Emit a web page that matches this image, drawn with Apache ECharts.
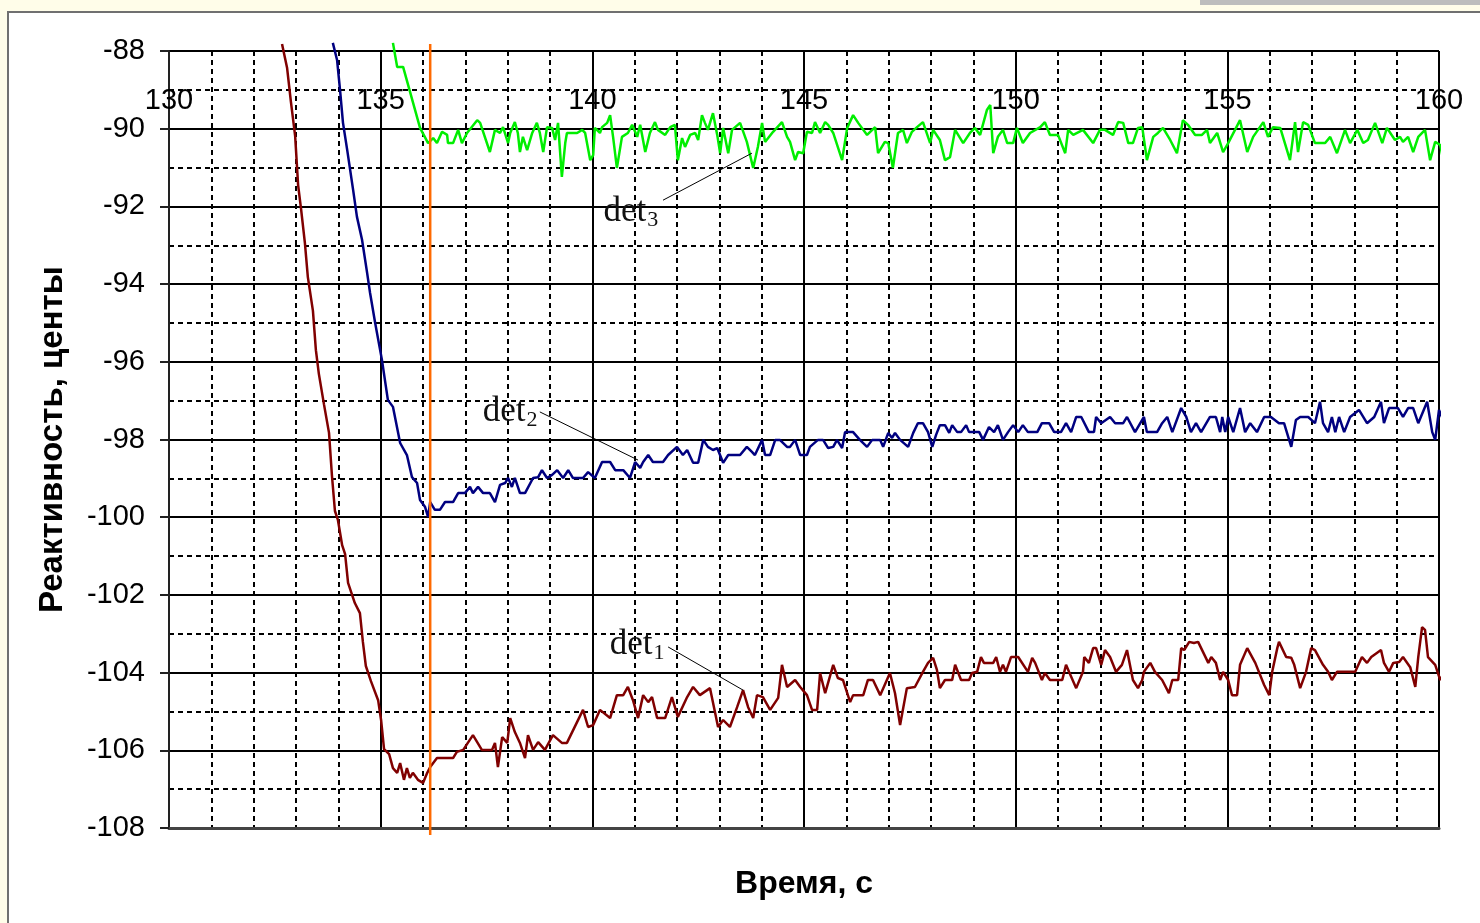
<!DOCTYPE html>
<html>
<head>
<meta charset="utf-8">
<title>Реактивность</title>
<script src="https://cdn.jsdelivr.net/npm/echarts@6/dist/echarts.min.js"></script>
<style>
html, body { margin: 0; padding: 0; width: 1480px; height: 923px; overflow: hidden; background: #fffde9; }
#frame { position: absolute; left: 7px; top: 11px; width: 1480px; height: 930px; background: #fff; border-left: 2px solid #707070; border-top: 2px solid #707070; }
#bar { position: absolute; left: 1200px; top: 0; width: 280px; height: 5px; background: #bdbdbd; }
#chart { position: absolute; left: 0; top: 0; width: 1480px; height: 923px; }
</style>
</head>
<body>
<div id="bar"></div>
<div id="frame"></div>
<div id="chart"></div>
<script>
// время, с / реактивность, центы
const det1Points = [
  [132.67,-87.82],[132.79,-88.44],[132.88,-89.31],[132.98,-90.19],[133.05,-91.45],[133.12,-92.07],[133.21,-92.94],
  [133.28,-93.82],[133.40,-94.69],[133.47,-95.70],[133.54,-96.31],[133.66,-97.09],[133.78,-97.83],[133.85,-98.94],
  [133.92,-99.84],[133.99,-100.07],[134.09,-100.72],[134.16,-100.95],[134.23,-101.69],[134.39,-102.21],[134.51,-102.47],
  [134.58,-103.21],[134.65,-103.83],[134.77,-104.22],[134.94,-104.71],[135.01,-105.22],[135.08,-105.97],[135.20,-106.10],
  [135.29,-106.46],[135.39,-106.58],[135.46,-106.33],[135.55,-106.76],[135.62,-106.46],[135.69,-106.71],[135.76,-106.58],
  [135.88,-106.76],[136.00,-106.84],[136.10,-106.58],[136.17,-106.43],[136.33,-106.20],[136.71,-106.20],[136.80,-106.04],
  [136.95,-105.99],[137.18,-105.61],[137.39,-105.99],[137.63,-105.99],[137.70,-105.81],[137.77,-106.43],[137.87,-105.66],
  [137.99,-105.81],[138.06,-105.17],[138.17,-105.53],[138.29,-105.81],[138.41,-106.20],[138.48,-105.61],[138.60,-105.99],
  [138.72,-105.79],[138.88,-105.99],[139.07,-105.61],[139.28,-105.81],[139.40,-105.81],[139.78,-104.96],[139.90,-105.40],
  [140.02,-105.35],[140.18,-104.96],[140.42,-105.17],[140.58,-104.58],[140.73,-104.58],[140.84,-104.37],[140.96,-104.71],
  [141.08,-105.17],[141.20,-104.58],[141.32,-104.76],[141.41,-104.63],[141.53,-105.17],[141.72,-105.17],[141.88,-104.63],
  [142.02,-105.14],[142.24,-104.63],[142.38,-104.37],[142.54,-104.58],[142.78,-104.40],[142.97,-105.40],[143.09,-105.22],
  [143.25,-105.40],[143.42,-104.89],[143.56,-104.45],[143.68,-104.89],[143.80,-105.17],[143.89,-104.58],[144.03,-104.63],
  [144.20,-104.96],[144.39,-104.65],[144.48,-103.80],[144.60,-104.37],[144.79,-104.19],[144.91,-104.37],[145.07,-104.58],
  [145.19,-104.96],[145.31,-104.96],[145.38,-104.01],[145.50,-104.53],[145.69,-103.80],[145.80,-104.14],[145.92,-104.19],
  [146.09,-104.76],[146.16,-104.58],[146.40,-104.58],[146.51,-104.19],[146.63,-104.19],[146.80,-104.58],[147.03,-104.01],
  [147.15,-104.53],[147.27,-105.35],[147.43,-104.40],[147.62,-104.37],[147.81,-103.98],[147.93,-103.75],[148.05,-103.62],
  [148.14,-103.93],[148.21,-104.40],[148.33,-104.19],[148.50,-104.19],[148.57,-103.80],[148.71,-104.19],[148.90,-104.19],
  [148.97,-104.01],[149.09,-103.98],[149.18,-103.60],[149.25,-103.75],[149.47,-103.75],[149.54,-103.60],[149.63,-103.98],
  [149.70,-103.80],[149.77,-103.98],[149.89,-103.60],[150.06,-103.60],[150.29,-103.98],[150.39,-103.62],[150.46,-103.75],
  [150.62,-104.19],[150.69,-104.01],[150.81,-104.19],[151.10,-104.19],[151.19,-103.80],[151.26,-103.98],[151.43,-104.40],
  [151.59,-103.98],[151.62,-103.60],[151.73,-103.75],[151.83,-103.37],[151.90,-103.37],[152.02,-103.80],[152.11,-103.42],
  [152.23,-103.60],[152.37,-103.98],[152.51,-103.80],[152.63,-103.42],[152.77,-104.19],[152.89,-104.40],[152.99,-104.19],
  [153.03,-103.98],[153.18,-103.75],[153.29,-103.98],[153.46,-104.19],[153.62,-104.53],[153.70,-104.19],[153.84,-104.19],
  [153.91,-103.37],[153.98,-103.42],[154.10,-103.21],[154.21,-103.24],[154.31,-103.21],[154.55,-103.75],[154.62,-103.60],
  [154.73,-103.75],[154.83,-104.19],[154.90,-103.98],[155.02,-104.19],[155.11,-104.58],[155.23,-104.58],[155.30,-103.80],
  [155.47,-103.37],[155.66,-103.75],[155.87,-104.32],[155.99,-104.58],[156.06,-103.98],[156.18,-103.37],[156.22,-103.21],
  [156.39,-103.60],[156.51,-103.62],[156.58,-103.80],[156.72,-104.40],[156.86,-103.98],[156.98,-103.37],[157.07,-103.42],
  [157.26,-103.80],[157.38,-103.98],[157.47,-104.19],[157.59,-103.98],[158.02,-103.98],[158.18,-103.60],[158.30,-103.75],
  [158.40,-103.60],[158.63,-103.42],[158.70,-103.75],[158.82,-103.98],[158.92,-103.75],[159.06,-103.73],[159.15,-103.60],
  [159.32,-103.86],[159.44,-104.37],[159.51,-103.60],[159.60,-102.83],[159.67,-102.90],[159.74,-103.60],[159.91,-103.80],
  [160.03,-104.19],[160.12,-104.01],[160.19,-104.19],[160.24,-103.98]
];

const det2Points = [
  [133.87,-87.79],[133.97,-88.23],[134.04,-89.00],[134.11,-89.85],[134.21,-90.55],[134.35,-91.58],[134.44,-92.27],
  [134.56,-92.86],[134.68,-93.71],[134.75,-94.23],[134.87,-95.00],[135.03,-95.95],[135.17,-96.98],[135.29,-97.16],
  [135.46,-98.09],[135.62,-98.40],[135.74,-98.97],[135.86,-99.12],[135.93,-99.56],[136.05,-99.74],[136.12,-99.99],
  [136.17,-99.61],[136.28,-99.81],[136.40,-99.81],[136.52,-99.61],[136.71,-99.61],[136.83,-99.38],[136.99,-99.38],
  [137.11,-99.22],[137.18,-99.38],[137.30,-99.22],[137.42,-99.38],[137.58,-99.38],[137.70,-99.61],[137.82,-99.17],
  [137.94,-99.12],[138.01,-98.99],[138.10,-99.22],[138.17,-98.99],[138.29,-99.38],[138.41,-99.38],[138.60,-98.99],
  [138.72,-98.97],[138.81,-98.79],[138.93,-98.99],[139.05,-98.91],[139.17,-98.79],[139.31,-98.99],[139.43,-98.79],
  [139.54,-98.99],[139.78,-98.99],[139.90,-98.84],[140.06,-98.99],[140.23,-98.58],[140.42,-98.58],[140.54,-98.79],
  [140.73,-98.79],[140.89,-98.99],[141.01,-98.58],[141.13,-98.73],[141.20,-98.58],[141.32,-98.40],[141.43,-98.58],
  [141.67,-98.58],[141.79,-98.40],[142.00,-98.19],[142.14,-98.40],[142.24,-98.27],[142.38,-98.60],[142.50,-98.60],
  [142.62,-98.01],[142.73,-98.19],[142.85,-98.27],[142.95,-98.22],[143.09,-98.60],[143.21,-98.40],[143.49,-98.40],
  [143.65,-98.19],[143.77,-98.32],[143.84,-98.40],[144.01,-98.01],[144.08,-98.40],[144.20,-98.40],[144.32,-98.01],
  [144.43,-98.01],[144.60,-98.19],[144.67,-98.19],[144.79,-98.01],[144.91,-98.40],[145.07,-98.40],[145.14,-98.19],
  [145.33,-98.01],[145.45,-98.01],[145.57,-98.22],[145.69,-98.19],[145.78,-98.01],[145.90,-98.22],[145.97,-97.81],
  [146.16,-97.81],[146.32,-98.01],[146.49,-98.19],[146.61,-98.01],[146.80,-98.01],[146.87,-98.19],[146.99,-97.83],
  [147.08,-97.96],[147.15,-97.83],[147.27,-98.01],[147.46,-98.19],[147.58,-97.83],[147.69,-97.58],[147.81,-97.58],
  [147.93,-97.81],[148.03,-98.19],[148.12,-97.88],[148.21,-97.63],[148.33,-97.63],[148.43,-97.83],[148.50,-97.63],
  [148.62,-97.81],[148.71,-97.81],[148.83,-97.63],[148.90,-97.81],[149.14,-97.81],[149.23,-98.01],[149.37,-97.68],
  [149.49,-97.81],[149.58,-97.63],[149.70,-98.01],[149.82,-97.81],[149.94,-97.63],[150.06,-97.81],[150.17,-97.63],
  [150.29,-97.81],[150.51,-97.81],[150.62,-97.58],[150.79,-97.58],[150.91,-97.81],[151.07,-97.81],[151.19,-97.58],
  [151.31,-97.81],[151.43,-97.42],[151.55,-97.42],[151.73,-97.81],[151.85,-97.81],[151.90,-97.42],[152.02,-97.58],
  [152.23,-97.42],[152.35,-97.58],[152.54,-97.58],[152.63,-97.42],[152.82,-97.81],[153.03,-97.42],[153.10,-97.81],
  [153.34,-97.81],[153.46,-97.58],[153.58,-97.42],[153.70,-97.81],[153.91,-97.19],[154.03,-97.42],[154.14,-97.81],
  [154.26,-97.58],[154.38,-97.81],[154.59,-97.42],[154.73,-97.42],[154.83,-97.81],[154.88,-97.42],[154.95,-97.81],
  [155.02,-97.42],[155.14,-97.81],[155.30,-97.19],[155.42,-97.81],[155.54,-97.58],[155.70,-97.81],[155.87,-97.42],
  [156.03,-97.42],[156.22,-97.58],[156.34,-97.58],[156.51,-98.19],[156.62,-97.50],[156.72,-97.42],[156.91,-97.42],
  [157.07,-97.58],[157.19,-97.03],[157.26,-97.58],[157.38,-97.81],[157.47,-97.42],[157.55,-97.81],[157.64,-97.42],
  [157.76,-97.81],[157.90,-97.42],[158.11,-97.24],[158.30,-97.58],[158.47,-97.42],[158.63,-97.03],[158.70,-97.58],
  [158.82,-97.19],[159.03,-97.19],[159.15,-97.42],[159.27,-97.19],[159.39,-97.19],[159.51,-97.58],[159.72,-97.03],
  [159.84,-97.81],[159.91,-98.01],[160.00,-97.24],[160.07,-97.42],[160.14,-97.58],[160.24,-97.58]
];

const det3Points = [
  [135.29,-87.79],[135.39,-88.41],[135.53,-88.41],[135.93,-89.98],[136.12,-90.37],[136.24,-90.24],[136.33,-90.37],
  [136.45,-90.08],[136.57,-90.16],[136.59,-90.37],[136.71,-90.37],[136.83,-90.03],[136.92,-90.37],[137.04,-90.11],
  [137.28,-89.78],[137.35,-89.85],[137.58,-90.60],[137.70,-90.03],[137.82,-90.11],[137.89,-89.96],[138.01,-90.37],
  [138.06,-90.11],[138.17,-89.83],[138.24,-90.11],[138.29,-90.60],[138.36,-90.21],[138.46,-90.55],[138.58,-90.11],
  [138.69,-89.85],[138.76,-90.11],[138.84,-90.60],[138.93,-89.96],[139.05,-89.98],[139.12,-90.29],[139.19,-89.85],
  [139.28,-91.24],[139.36,-90.37],[139.40,-90.11],[139.64,-90.11],[139.76,-90.03],[139.83,-90.11],[139.95,-90.81],
  [140.02,-90.68],[140.06,-89.98],[140.18,-90.11],[140.23,-89.96],[140.35,-89.85],[140.42,-89.65],[140.49,-90.21],
  [140.58,-91.01],[140.70,-90.21],[140.84,-90.11],[140.94,-89.90],[141.06,-90.21],[141.13,-89.90],[141.25,-90.60],
  [141.36,-90.11],[141.48,-89.83],[141.55,-90.03],[141.72,-90.16],[141.84,-89.96],[141.95,-89.90],[142.02,-90.81],
  [142.12,-90.24],[142.19,-90.47],[142.31,-90.16],[142.43,-90.11],[142.50,-90.29],[142.59,-89.65],[142.66,-89.85],
  [142.73,-90.03],[142.85,-89.60],[142.95,-90.16],[143.02,-90.63],[143.09,-89.98],[143.21,-90.63],[143.30,-90.03],
  [143.49,-89.85],[143.65,-90.34],[143.80,-91.01],[143.91,-90.47],[144.01,-89.85],[144.08,-90.34],[144.27,-90.08],
  [144.48,-89.83],[144.60,-90.21],[144.67,-90.34],[144.79,-90.81],[144.86,-90.60],[144.98,-90.63],[145.07,-90.08],
  [145.19,-90.11],[145.26,-89.83],[145.38,-90.11],[145.50,-89.83],[145.57,-89.90],[145.69,-90.11],[145.90,-90.81],
  [146.02,-89.98],[146.16,-89.65],[146.28,-89.85],[146.49,-90.16],[146.68,-89.96],[146.75,-90.63],[146.91,-90.34],
  [146.99,-90.37],[147.10,-91.01],[147.22,-90.11],[147.34,-90.03],[147.43,-90.37],[147.55,-90.08],[147.67,-89.96],
  [147.81,-89.83],[147.98,-90.37],[148.05,-90.03],[148.21,-90.29],[148.33,-90.81],[148.45,-90.73],[148.57,-90.03],
  [148.76,-90.37],[148.92,-90.11],[149.04,-89.98],[149.16,-90.16],[149.32,-89.52],[149.40,-89.39],[149.47,-90.63],
  [149.58,-90.21],[149.70,-90.03],[149.80,-90.37],[149.94,-90.37],[150.03,-89.98],[150.17,-90.37],[150.34,-90.11],
  [150.58,-89.96],[150.69,-89.83],[150.81,-90.16],[151.00,-90.16],[151.17,-90.63],[151.24,-90.03],[151.36,-90.16],
  [151.59,-90.03],[151.83,-90.37],[151.99,-90.03],[152.11,-90.03],[152.30,-90.16],[152.42,-89.83],[152.54,-89.85],
  [152.66,-90.37],[152.77,-90.37],[152.89,-89.98],[152.99,-89.96],[153.10,-90.81],[153.25,-90.21],[153.36,-90.11],
  [153.48,-89.98],[153.65,-90.29],[153.81,-90.63],[153.95,-89.78],[154.07,-89.90],[154.24,-90.16],[154.40,-90.16],
  [154.52,-90.03],[154.59,-90.37],[154.76,-90.11],[154.90,-90.60],[155.02,-90.37],[155.30,-89.78],[155.47,-90.60],
  [155.61,-90.21],[155.85,-89.83],[155.96,-90.21],[156.08,-89.96],[156.25,-89.98],[156.48,-90.81],[156.60,-89.83],
  [156.67,-90.60],[156.79,-89.83],[156.91,-89.90],[157.07,-90.37],[157.31,-90.37],[157.43,-90.21],[157.59,-90.63],
  [157.78,-90.03],[157.90,-90.37],[158.07,-90.03],[158.21,-90.37],[158.32,-90.29],[158.49,-89.85],[158.66,-90.37],
  [158.77,-89.98],[158.96,-90.29],[159.08,-90.21],[159.15,-90.34],[159.27,-90.21],[159.39,-90.60],[159.51,-90.21],
  [159.67,-90.03],[159.79,-90.81],[159.91,-90.34],[160.03,-90.42],[160.10,-90.81],[160.19,-90.29]
];

// вертикальная отметка времени
const markerTime = 136.17;
const markerRange = [-108.18, -87.82];

// подписи кривых: [центр текста], [начало выноски], [конец выноски]
const det1Label = { sub: '1', text: [141.06, -103.29], from: [141.79, -103.34], to: [143.56, -104.45] };
const det2Label = { sub: '2', text: [138.06, -97.29], from: [138.76, -97.29], to: [141.08, -98.53] };
const det3Label = { sub: '3', text: [140.91, -92.14], from: [141.67, -91.84], to: [143.77, -90.63] };

const xRange = [130, 160];
const yRange = [-108, -88];

function curve(name, points, color, label) {
  return {
    name: name,
    type: 'line',
    data: points,
    symbol: 'none',
    clip: false,
    lineStyle: { color: color, width: 2.5 },
    markLine: {
      silent: true,
      symbol: 'none',
      label: { show: false },
      lineStyle: { color: '#000', width: 1, type: 'solid' },
      data: [[{ coord: label.from }, { coord: label.to }]],
    },
    markPoint: {
      silent: true,
      symbol: 'circle',
      symbolSize: 0,
      data: [{ coord: label.text }],
      label: {
        show: true,
        position: 'inside',
        formatter: '{a|det}{b|' + label.sub + '}',
        rich: {
          a: { fontFamily: 'Liberation Serif', fontSize: 35, color: '#111' },
          b: { fontFamily: 'Liberation Serif', fontSize: 22, color: '#111', padding: [16, 0, 0, 1] },
        },
      },
    },
  };
}

const chart = echarts.init(document.getElementById('chart'));
const option = {
  animation: false,
  grid: { left: 169, right: 41, top: 51, bottom: 95 },
  xAxis: [
    {
      type: 'value',
      position: 'bottom',
      min: xRange[0],
      max: xRange[1],
      interval: 5,
      name: 'Время, с',
      nameLocation: 'middle',
      nameGap: 40,
      nameTextStyle: { fontFamily: 'Liberation Sans', fontWeight: 'bold', fontSize: 32, color: '#000' },
      axisLine: { show: true, lineStyle: { color: '#444', width: 3 } },
      axisTick: { show: false },
      axisLabel: { show: false },
      splitLine: { show: true, lineStyle: { color: '#000', width: 2 } },
      minorTick: { show: false, splitNumber: 5 },
      minorSplitLine: { show: true, lineStyle: { color: '#000', width: 2, type: [5, 4] } },
    },
    {
      type: 'value',
      position: 'top',
      min: xRange[0],
      max: xRange[1],
      interval: 5,
      axisLine: { show: false },
      axisTick: { show: false },
      splitLine: { show: false },
      axisLabel: { inside: true, margin: 35, fontFamily: 'Liberation Sans', fontSize: 29, color: '#000' },
    },
  ],
  yAxis: {
    type: 'value',
    min: yRange[0],
    max: yRange[1],
    interval: 2,
    name: 'Реактивность, центы',
    nameLocation: 'middle',
    nameRotate: 90,
    nameGap: 100,
    nameTextStyle: { fontFamily: 'Liberation Sans', fontWeight: 'bold', fontSize: 33, color: '#000' },
    axisLine: { show: true, lineStyle: { color: '#222', width: 2 } },
    axisTick: { show: true, length: 9, lineStyle: { color: '#222', width: 2 } },
    axisLabel: { margin: 24, fontFamily: 'Liberation Sans', fontSize: 29, color: '#000' },
    splitLine: { show: true, lineStyle: { color: '#000', width: 2 } },
    minorTick: { show: false, splitNumber: 2 },
    minorSplitLine: { show: true, lineStyle: { color: '#000', width: 2, type: [5, 4] } },
  },
  series: [
    curve('det1', det1Points, '#800000', det1Label),
    curve('det2', det2Points, '#000080', det2Label),
    curve('det3', det3Points, '#00ee00', det3Label),
    {
      name: 'marker',
      type: 'line',
      data: [[markerTime, markerRange[0]], [markerTime, markerRange[1]]],
      symbol: 'none',
      clip: false,
      lineStyle: { color: '#ff6a00', width: 2.5 },
    },
  ],
};
chart.setOption(option);
</script>
</body>
</html>
